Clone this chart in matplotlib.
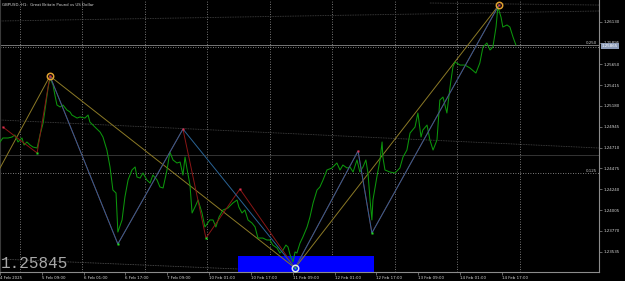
import matplotlib
matplotlib.use("Agg")
import matplotlib.pyplot as plt
import matplotlib.transforms as mtransforms
from matplotlib.patches import Rectangle
import numpy as np

# H1 closes: bar index from 4 Feb 17:00, price
bars = [0.0, 1.1, 3.1, 4.6, 5.7, 6.9, 8.4, 9.2, 10.3, 11.5, 12.6, 14.2, 15.3, 16.5, 17.2,
        18.4, 19.1, 20.3, 21.0, 21.8, 23.0, 24.1, 25.6, 26.8, 27.5, 29.5, 30.6, 32.5, 33.7,
        34.4, 36.3, 38.3, 39.4, 40.9, 42.1, 43.2, 44.4, 45.1, 46.7, 47.8, 49.0, 50.5, 51.7,
        52.4, 53.6, 54.7, 56.2, 57.4, 58.5, 60.1, 61.2, 62.4, 63.9, 65.0, 66.2, 67.7, 68.9,
        70.0, 70.8, 71.5, 72.7, 73.5, 74.6, 75.8, 77.3, 78.4, 80.3, 81.5, 82.6, 83.8, 85.3,
        87.2, 89.1, 90.7, 91.4, 92.6, 93.7, 94.9, 96.4, 97.6, 98.7, 100.6, 102.1, 103.3,
        104.4, 106.0, 107.1, 108.3, 109.4, 110.2, 111.0, 112.1, 112.9, 113.6, 114.8, 115.9,
        117.5, 118.6, 119.8, 121.3, 122.4, 123.6, 125.1, 127.0, 128.9, 130.1, 131.2, 132.8,
        133.9, 135.1, 136.6, 137.7, 138.9, 140.0, 140.8, 141.6, 142.3, 142.7, 144.2, 145.4,
        146.2, 146.5, 147.3, 149.2, 151.1, 153.0, 154.2, 155.7, 156.9, 158.8, 159.9, 161.1,
        161.8, 163.4, 164.5, 165.7, 167.2, 168.3, 169.5, 171.0, 172.2, 173.3, 174.1, 176.0,
        177.9, 179.8, 182.1, 183.6, 184.8, 186.3, 187.5, 188.6, 189.8, 190.5, 191.7, 192.4,
        194.0, 195.1, 196.3, 197.4]
close = [1.24773, 1.24818, 1.24818, 1.24829, 1.24852, 1.24773, 1.24818, 1.24739, 1.24773,
         1.24739, 1.24716, 1.24705, 1.24852, 1.24987, 1.25134, 1.25382, 1.25495, 1.25416,
         1.25303, 1.25190, 1.25168, 1.25190, 1.25134, 1.25111, 1.25077, 1.25043, 1.25055,
         1.25043, 1.25077, 1.24998, 1.24942, 1.24885, 1.24829, 1.24682, 1.24491, 1.24231,
         1.24197, 1.23757, 1.23893, 1.24152, 1.24344, 1.24457, 1.24491, 1.24378, 1.24366,
         1.24423, 1.24344, 1.24310, 1.24400, 1.24344, 1.24265, 1.24254, 1.24457, 1.24660,
         1.24570, 1.24536, 1.24547, 1.24400, 1.24603, 1.24479, 1.24287, 1.23972, 1.24039,
         1.24118, 1.23972, 1.23814, 1.23893, 1.23893, 1.23814, 1.23926, 1.24005, 1.24028,
         1.24084, 1.24118, 1.24039, 1.23972, 1.24005, 1.23893, 1.23859, 1.23814, 1.23689,
         1.23689, 1.23667, 1.23667, 1.23610, 1.23577, 1.23520, 1.23554, 1.23610, 1.23588,
         1.23498, 1.23419, 1.23532, 1.23520, 1.23633, 1.23701, 1.23814, 1.23926, 1.24084,
         1.24231, 1.24265, 1.24344, 1.24457, 1.24479, 1.24536, 1.24457, 1.24513, 1.24479,
         1.24491, 1.24434, 1.24570, 1.24434, 1.24491, 1.24570, 1.24423, 1.24118, 1.23893,
         1.24118, 1.24378, 1.24570, 1.24773, 1.24603, 1.24457, 1.24434, 1.24423, 1.24479,
         1.24603, 1.24682, 1.24874, 1.24942, 1.25100, 1.24829, 1.24908, 1.24964, 1.24795,
         1.24682, 1.24795, 1.25246, 1.25280, 1.25100, 1.25393, 1.25619, 1.25675, 1.25641,
         1.25641, 1.25608, 1.25551, 1.25664, 1.25844, 1.25890, 1.25811, 1.25844, 1.26070,
         1.26296, 1.26183, 1.26070, 1.26093, 1.26070, 1.25957, 1.25867]

# zigzag pivots
minor_x = [1.1, 14.2, 19.1, 45.1, 70.0, 78.8, 91.8, 112.9, 137.0, 142.3, 190.9]
minor_y = [1.24942, 1.24649, 1.25517, 1.23622, 1.24919, 1.23689, 1.24242, 1.23351, 1.24671,
           1.23746, 1.26318]
mid_x = [19.1, 45.1, 70.0, 112.9, 137.0, 142.3, 190.9]
mid_y = [1.25517, 1.23622, 1.24919, 1.23351, 1.24671, 1.23746, 1.26318]
major_x = [0.0, 19.1, 112.9, 190.9]
major_y = [1.24479, 1.25517, 1.23351, 1.26318]
high_marks_x = [1.1, 70.0, 91.8, 137.0]
high_marks_y = [1.24942, 1.24919, 1.24242, 1.24671]
low_marks_x = [14.2, 45.1, 78.8, 142.3]
low_marks_y = [1.24649, 1.23622, 1.23689, 1.23746]

# channel / level lines (start, end prices across the window)
chan_mid = [1.25021, 1.24705]
chan_top = [1.26138, 1.26251]
chan_top2 = [1.26341, 1.26318]
chan_low = [1.23452, 1.23170]
level_250 = 1.25870
level_125 = 1.24423
grid_levels = [1.25840, 1.24423]
dark_level = 1.24626

box_start, box_end, box_top = 91.0, 143.1, 1.23486
bid = 1.25865
big_price = "1.25845"

price_ticks = [1.26130, 1.25895, 1.25650, 1.25415, 1.25180, 1.24945, 1.24710, 1.24475,
               1.24240, 1.24005, 1.23770, 1.23535]
time_ticks = [0, 16, 32, 48, 64, 80, 96, 112, 128, 144, 160, 176, 192]
time_labels = ["4 Feb 2025", "5 Feb 09:00", "6 Feb 01:00", "6 Feb 17:00", "7 Feb 09:00",
               "10 Feb 01:00", "10 Feb 17:00", "11 Feb 09:00", "12 Feb 01:00",
               "12 Feb 17:00", "13 Feb 09:00", "14 Feb 01:00", "14 Feb 17:00"]

x_end = 229.2
y_lo, y_hi = 1.23306, 1.26375

fig = plt.figure(figsize=(6.25, 2.81), dpi=100, facecolor="black")
ax = fig.add_axes([0, 9 / 281, 599 / 625, 272 / 281], facecolor="black")
ax.set_xlim(0, x_end)
ax.set_ylim(y_lo, y_hi)

# day grid
for gx in np.arange(7.6, 200, 23.9):
    ax.axvline(gx, color="#9a9a9a", lw=0.6, ls=(0, (1, 2)), zorder=1)
for gy in grid_levels:
    ax.axhline(gy, color="#a8a8a8", lw=0.6, ls=(0, (1, 2)), zorder=1)
ax.axhline(level_250, color="#8a8a8a", lw=0.6, zorder=1)
ax.axhline(dark_level, color="#3c3c3c", lw=0.6, zorder=1)

for ends, col in [(chan_mid, "#4a4a4a"), (chan_top, "#4a4a4a"), (chan_low, "#5a5a5a")]:
    ax.plot([0, x_end], ends, color=col, lw=0.6, ls=(0, (1, 1)), zorder=1)
ax.plot([164.5, x_end], chan_top2, color="#4a4a4a", lw=0.6, ls=(0, (1, 1)), zorder=1)

ax.add_patch(Rectangle((box_start, y_lo), box_end - box_start, box_top - y_lo,
                       facecolor="#0000ff", edgecolor="none", zorder=2))

ax.plot(major_x, major_y, color="#8c7a26", lw=0.7, zorder=3)
ax.plot(bars, close, color="#0c960c", lw=0.75, zorder=4)
ax.plot(minor_x, minor_y, color="#8a1616", lw=0.7, zorder=5)
ax.plot(mid_x, mid_y, color="#2a6496", lw=0.7, zorder=6)

ax.plot(high_marks_x, high_marks_y, "s", ms=2, color="#e03050", mec="none", zorder=7)
ax.plot(low_marks_x, low_marks_y, "s", ms=2, color="#20e020", mec="none", zorder=7)
ax.plot([19.1, 190.9], [1.25517, 1.26318], "o", ms=4.6, mfc="none", mec="#e0a030",
        mew=1.1, zorder=7)
ax.plot([19.1, 190.9], [1.25517, 1.26318], "s", ms=2, color="#e03050", mec="none", zorder=8)
ax.plot([112.9], [1.23351], "o", ms=4.6, mfc="none", mec="#d8ecec", mew=1.1, zorder=7)
ax.plot([112.9], [1.23351], "s", ms=2, color="#20c080", mec="none", zorder=8)

# axes look
ax.spines["top"].set_visible(False)
ax.spines["left"].set_color("#3a3a3a")
ax.spines["right"].set_color("#8c8c8c")
ax.spines["bottom"].set_color("#8c8c8c")
ax.spines["right"].set_linewidth(0.8)
ax.spines["bottom"].set_linewidth(0.8)

ax.yaxis.tick_right()
ax.set_yticks(price_ticks)
ax.set_yticklabels(["%.5f" % p for p in price_ticks])
ax.set_xticks(time_ticks)
ax.set_xticklabels(time_labels)
for lbl in ax.get_xticklabels():
    lbl.set_horizontalalignment("left")
ax.tick_params(axis="both", colors="#8c8c8c", labelcolor="#d8d8d8", labelsize=2.9,
               length=2, width=0.5, pad=1)

ax.annotate(f"{bid:.5f}", xy=(1.0, bid), xycoords=("axes fraction", "data"),
            xytext=(2, -0.6), textcoords="offset points", ha="left", va="center",
            fontsize=2.9, color="white", annotation_clip=False, zorder=10,
            bbox=dict(boxstyle="square,pad=0.15", fc="#8d9cb8", ec="none"))

trans = mtransforms.blended_transform_factory(ax.transAxes, ax.transData)
ax.text(0.997, level_250, "0.250", transform=trans, ha="right", va="bottom",
        fontsize=2.9, color="#c8c8c8")
ax.text(0.997, level_125, "0.125", transform=trans, ha="right", va="bottom",
        fontsize=2.9, color="#c8c8c8")

ax.text(0.003, 0.99, "GBPUSD, H1:  Great Britain Pound vs US Dollar", transform=ax.transAxes,
        fontsize=2.8, color="#d8d8d8", va="top", ha="left")
ax.text(0.002, 0.015, big_price, transform=ax.transAxes, fontfamily="Liberation Mono",
        fontsize=11.5, color="#a8a8a8", va="baseline", ha="left", zorder=9)

fig.savefig("out.png", dpi=100, facecolor="black")
